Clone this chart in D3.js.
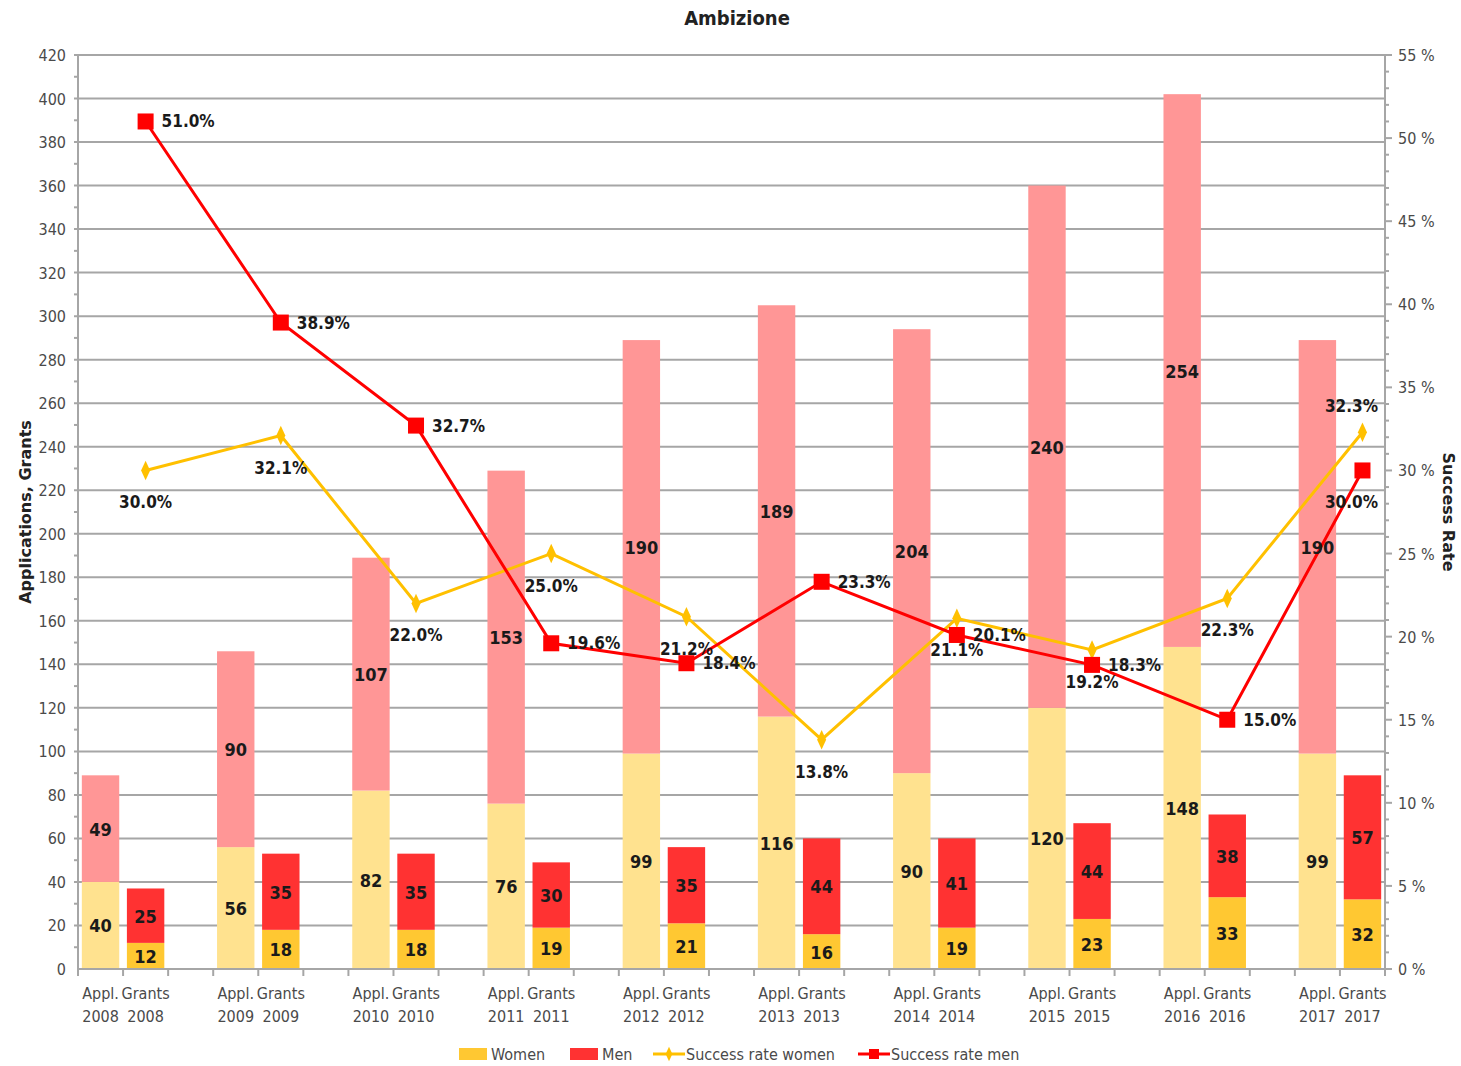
<!DOCTYPE html>
<html>
<head>
<meta charset="utf-8">
<script src="https://cdn.jsdelivr.net/npm/d3@7"></script>
<style>
    body { margin: 0; background: #fff; }
    svg text { font-family: "DejaVu Sans Condensed", "DejaVu Sans", sans-serif; }
</style>
</head>
<body>
<div id="chart"></div>
<script>
// Data
const years = [2008, 2009, 2010, 2011, 2012, 2013, 2014, 2015, 2016, 2017];
const applWomen = [40, 56, 82, 76, 99, 116, 90, 120, 148, 99];
const applMen = [49, 90, 107, 153, 190, 189, 204, 240, 254, 190];
const grantsWomen = [12, 18, 18, 19, 21, 16, 19, 23, 33, 32];
const grantsMen = [25, 35, 35, 30, 35, 44, 41, 44, 38, 57];
const rateWomen = [30.0, 32.1, 22.0, 25.0, 21.2, 13.8, 21.1, 19.2, 22.3, 32.3];
const rateMen = [51.0, 38.9, 32.7, 19.6, 18.4, 23.3, 20.1, 18.3, 15.0, 30.0];
// where each rate label sits relative to its marker
const labelPosWomen = ['below', 'below', 'below', 'below', 'below', 'below', 'below', 'below', 'below', 'above'];
const labelPosMen = ['right', 'right', 'right', 'right', 'right', 'right', 'right', 'right', 'right', 'below'];
const leftTicks = d3.range(0, 421, 20);
const rightTicks = d3.range(0, 56, 5);

const W = 1461, H = 1066;
const plot = { left: 78, right: 1385, top: 55, bottom: 969 };

const colors = {
    applWomen: '#ffe28f',
    applMen: '#ff9696',
    grantsWomen: '#ffc832',
    grantsMen: '#ff3232',
    lineWomen: '#ffc000',
    lineMen: '#ff0000',
    grid: '#a6a6a6',
    axisText: '#4a4a4a'
};

// Category keys: Appl, Grants and a spacer between years
const keys = [];
years.forEach((y, i) => {
    keys.push('A' + y, 'G' + y);
    if (i < years.length - 1) keys.push('S' + y);
});

const svg = d3.select('#chart').append('svg')
    .attr('width', W).attr('height', H);

const x = d3.scaleBand()
    .domain(keys)
    .range([plot.left, plot.right])
    .paddingInner(0.17)
    .paddingOuter(0.085);
const step = x.step();
const cx = k => x(k) + x.bandwidth() / 2;

const y = d3.scaleLinear().domain([0, 420]).range([plot.bottom, plot.top]);
const yR = d3.scaleLinear().domain([0, 55]).range([plot.bottom, plot.top]);

// Title
svg.append('text')
    .attr('x', 737).attr('y', 25)
    .attr('text-anchor', 'middle')
    .style('font-size', '20px').style('font-weight', 'bold').style('fill', '#222')
    .text('Ambizione');

// Gridlines
svg.append('g').selectAll('line')
    .data(leftTicks.filter(d => d > 0))
    .enter().append('line')
    .attr('x1', plot.left - 4).attr('x2', plot.right)
    .attr('y1', d => y(d)).attr('y2', d => y(d))
    .attr('stroke', colors.grid).attr('stroke-width', 2);

// Left axis
const gL = svg.append('g');
gL.append('line')
    .attr('x1', plot.left).attr('x2', plot.left)
    .attr('y1', plot.top).attr('y2', plot.bottom)
    .attr('stroke', colors.grid).attr('stroke-width', 2);
gL.selectAll('.minor').data(d3.range(10, 420, 20)).enter().append('line')
    .attr('x1', plot.left - 4).attr('x2', plot.left)
    .attr('y1', d => y(d)).attr('y2', d => y(d))
    .attr('stroke', colors.grid).attr('stroke-width', 2);
gL.selectAll('text').data(leftTicks).enter().append('text')
    .attr('x', plot.left - 12).attr('y', d => y(d) + 6)
    .attr('text-anchor', 'end')
    .style('font-size', '16px').style('fill', colors.axisText)
    .text(d => d);

// Right axis
const gR = svg.append('g');
gR.append('line')
    .attr('x1', plot.right).attr('x2', plot.right)
    .attr('y1', plot.top).attr('y2', plot.bottom)
    .attr('stroke', colors.grid).attr('stroke-width', 2);
gR.selectAll('.minor').data(d3.range(0, 56, 1)).enter().append('line')
    .attr('x1', plot.right).attr('x2', d => plot.right + (d % 5 === 0 ? 7 : 4))
    .attr('y1', d => yR(d)).attr('y2', d => yR(d))
    .attr('stroke', colors.grid).attr('stroke-width', 2);
gR.selectAll('text').data(rightTicks).enter().append('text')
    .attr('x', plot.right + 13).attr('y', d => yR(d) + 6)
    .style('font-size', '16px').style('fill', colors.axisText)
    .text(d => d + ' %');

// Axis titles
svg.append('text')
    .attr('transform', `translate(31,${(plot.top + plot.bottom) / 2}) rotate(-90)`)
    .attr('text-anchor', 'middle')
    .style('font-family', '"DejaVu Sans", sans-serif')
    .style('font-size', '16px').style('font-weight', 'bold').style('fill', '#222')
    .text('Applications, Grants');
svg.append('text')
    .attr('transform', `translate(1443,${(plot.top + plot.bottom) / 2}) rotate(90)`)
    .attr('text-anchor', 'middle')
    .style('font-family', '"DejaVu Sans", sans-serif')
    .style('font-size', '16px').style('font-weight', 'bold').style('fill', '#222')
    .text('Success Rate');

// Bars
const bars = [];
years.forEach((yr, i) => {
    bars.push({ key: 'A' + yr, v0: 0, v1: applWomen[i], color: colors.applWomen, val: applWomen[i] });
    bars.push({ key: 'A' + yr, v0: applWomen[i], v1: applWomen[i] + applMen[i], color: colors.applMen, val: applMen[i] });
    bars.push({ key: 'G' + yr, v0: 0, v1: grantsWomen[i], color: colors.grantsWomen, val: grantsWomen[i] });
    bars.push({ key: 'G' + yr, v0: grantsWomen[i], v1: grantsWomen[i] + grantsMen[i], color: colors.grantsMen, val: grantsMen[i] });
});

svg.append('g').selectAll('rect').data(bars).enter().append('rect')
    .attr('x', d => x(d.key))
    .attr('width', x.bandwidth())
    .attr('y', d => y(d.v1))
    .attr('height', d => y(d.v0) - y(d.v1))
    .attr('fill', d => d.color);

// X axis line and ticks
svg.append('line')
    .attr('x1', plot.left).attr('x2', plot.right)
    .attr('y1', plot.bottom).attr('y2', plot.bottom)
    .attr('stroke', colors.grid).attr('stroke-width', 2);
svg.append('g').selectAll('line')
    .data(d3.range(0, keys.length + 1))
    .enter().append('line')
    .attr('x1', k => plot.left + k * step).attr('x2', k => plot.left + k * step)
    .attr('y1', plot.bottom).attr('y2', plot.bottom + 7)
    .attr('stroke', colors.grid).attr('stroke-width', 2);

const xLabels = [];
years.forEach(yr => {
    xLabels.push({ key: 'A' + yr, a: 'Appl.', b: yr });
    xLabels.push({ key: 'G' + yr, a: 'Grants', b: yr });
});
const xl = svg.append('g').selectAll('text').data(xLabels).enter().append('text')
    .attr('text-anchor', 'middle')
    .style('font-size', '16px').style('fill', colors.axisText);
xl.append('tspan').attr('x', d => cx(d.key)).attr('y', 999).text(d => d.a);
xl.append('tspan').attr('x', d => cx(d.key)).attr('y', 1022).text(d => d.b);

// Success rate lines
const lineGen = d3.line().x(d => d.x).y(d => d.y);
const ptsWomen = years.map((yr, i) => ({ x: cx('G' + yr), y: yR(rateWomen[i]), v: rateWomen[i], pos: labelPosWomen[i], last: i === years.length - 1 }));
const ptsMen = years.map((yr, i) => ({ x: cx('G' + yr), y: yR(rateMen[i]), v: rateMen[i], pos: labelPosMen[i], last: i === years.length - 1 }));

svg.append('path').datum(ptsWomen)
    .attr('d', lineGen).attr('fill', 'none')
    .attr('stroke', colors.lineWomen).attr('stroke-width', 3);
svg.append('g').selectAll('path').data(ptsWomen).enter().append('path')
    .attr('d', d3.symbol().type(d3.symbolDiamond).size(110))
    .attr('transform', d => `translate(${d.x},${d.y}) scale(0.8,1)`)
    .attr('fill', colors.lineWomen);

svg.append('path').datum(ptsMen)
    .attr('d', lineGen).attr('fill', 'none')
    .attr('stroke', colors.lineMen).attr('stroke-width', 3);
svg.append('g').selectAll('rect').data(ptsMen).enter().append('rect')
    .attr('x', d => d.x - 8).attr('y', d => d.y - 8)
    .attr('width', 16).attr('height', 16)
    .attr('fill', colors.lineMen);

// Bar value labels
svg.append('g').selectAll('text').data(bars).enter().append('text')
    .attr('x', d => cx(d.key))
    .attr('y', d => (y(d.v0) + y(d.v1)) / 2 + 7)
    .attr('text-anchor', 'middle')
    .style('font-size', '18px').style('font-weight', 'bold').style('fill', '#1a1a1a')
    .text(d => d.val);

// Rate labels
function placeLabel(sel) {
    sel.attr('x', d => d.pos === 'right' ? d.x + 16 : d.x - (d.last ? 11 : 0))
        .attr('y', d => d.pos === 'right' ? d.y + 6 : d.pos === 'below' ? d.y + 38 : d.y - 20)
        .attr('text-anchor', d => d.pos === 'right' ? 'start' : 'middle')
        .style('font-size', '17px').style('font-weight', 'bold').style('fill', '#1a1a1a')
        .text(d => d.v.toFixed(1) + '%');
}
svg.append('g').selectAll('text').data(ptsWomen).enter().append('text').call(placeLabel);
svg.append('g').selectAll('text').data(ptsMen).enter().append('text').call(placeLabel);

// Legend
const legend = svg.append('g').attr('transform', 'translate(0,1054)');
const legendItems = [
    { label: 'Women', type: 'rect', color: colors.grantsWomen, x: 459 },
    { label: 'Men', type: 'rect', color: colors.grantsMen, x: 570 },
    { label: 'Success rate women', type: 'diamond', color: colors.lineWomen, x: 653 },
    { label: 'Success rate men', type: 'square', color: colors.lineMen, x: 858 }
];
legendItems.forEach(it => {
    const g = legend.append('g').attr('transform', `translate(${it.x},0)`);
    if (it.type === 'rect') {
        g.append('rect').attr('x', 0).attr('y', -6).attr('width', 28).attr('height', 12).attr('fill', it.color);
    } else {
        g.append('line').attr('x1', 0).attr('x2', 32).attr('y1', 0).attr('y2', 0)
            .attr('stroke', it.color).attr('stroke-width', 3);
        if (it.type === 'diamond') {
            g.append('path').attr('d', d3.symbol().type(d3.symbolDiamond).size(60))
                .attr('transform', 'translate(16,0) scale(0.8,1)').attr('fill', it.color);
        } else {
            g.append('rect').attr('x', 11).attr('y', -5).attr('width', 10).attr('height', 10).attr('fill', it.color);
        }
    }
    g.append('text')
        .attr('x', it.type === 'rect' ? 32 : 33).attr('y', 6)
        .style('font-size', '16px').style('fill', colors.axisText)
        .text(it.label);
});
</script>
</body>
</html>
